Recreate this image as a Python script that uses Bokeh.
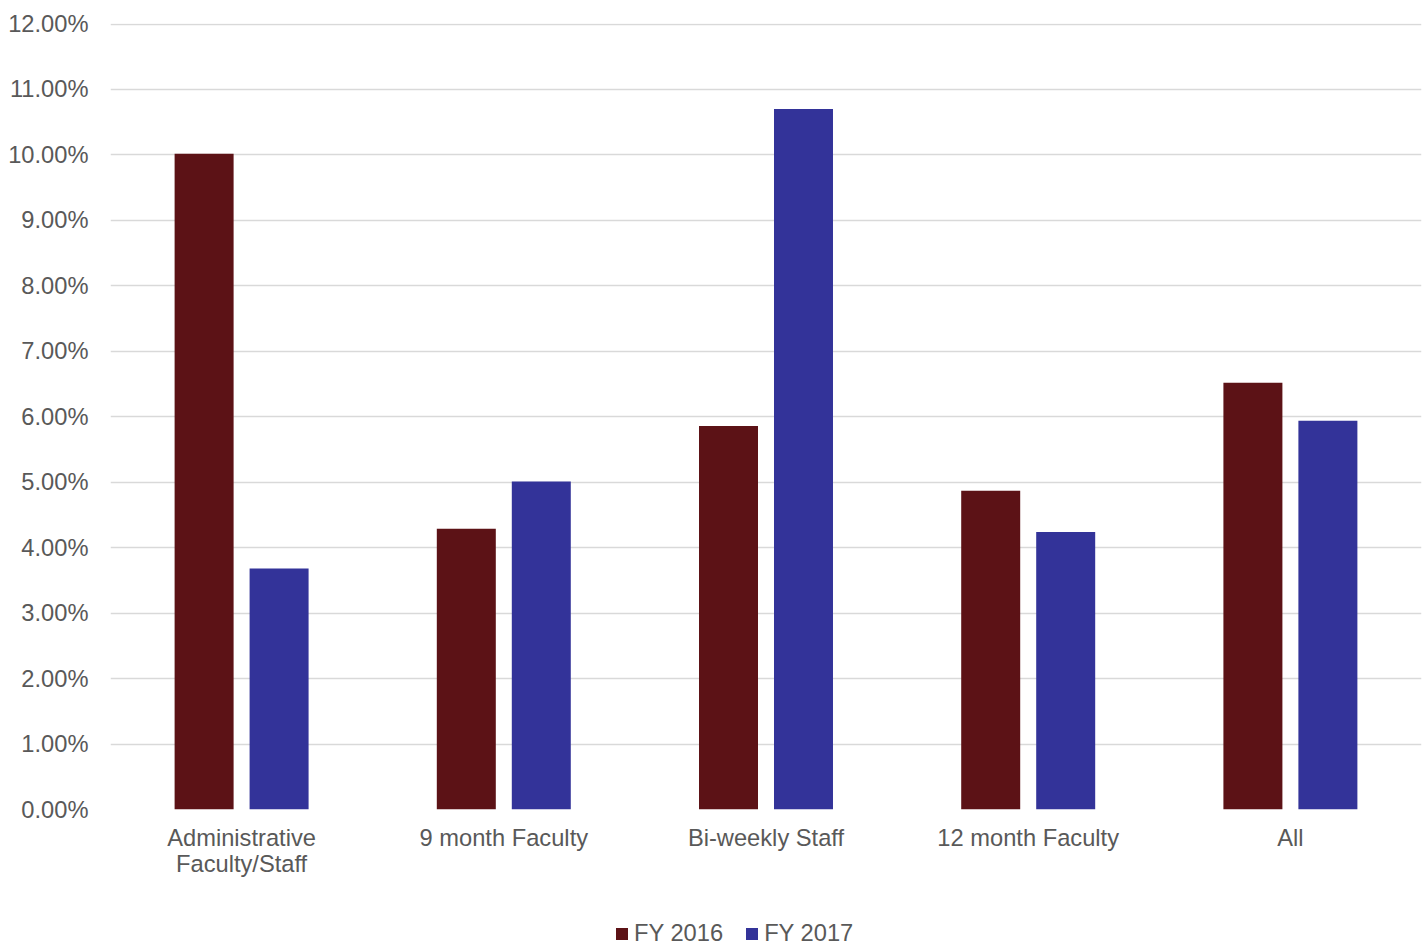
from bokeh.plotting import figure
from bokeh.layouts import column
from bokeh.models import (ColumnDataSource, FactorRange, Range1d, NumeralTickFormatter,
                          Legend, LegendItem, SingleIntervalTicker)
from bokeh.transform import dodge
from bokeh.embed import file_html
from bokeh.resources import INLINE

# Turnover rate by employee group, two fiscal years
groups = ["Administrative\nFaculty/Staff", "9 month Faculty", "Bi-weekly Staff",
          "12 month Faculty", "All"]
fy2016 = [0.1002, 0.0429, 0.0586, 0.0487, 0.0652]
fy2017 = [0.0368, 0.0501, 0.1070, 0.0424, 0.0594]
series_names = ["FY 2016", "FY 2017"]
series_colors = ["#5C1216", "#333399"]

FONT = "Liberation Sans"
TEXT_COLOR = "#595959"
FONT_SIZE = "23.7px"

src = ColumnDataSource(dict(group=groups, fy2016=fy2016, fy2017=fy2017))

p = figure(width=1423, height=900, output_backend="svg", toolbar_location=None,
           x_range=FactorRange(factors=groups, range_padding=0),
           y_range=Range1d(0, 0.12008),
           min_border_left=110, min_border_right=2, min_border_top=23,
           min_border_bottom=91)

p.vbar(x=dodge("group", -0.143, range=p.x_range), top="fy2016", width=0.225,
       source=src, color=series_colors[0], line_color=None)
p.vbar(x=dodge("group", 0.143, range=p.x_range), top="fy2017", width=0.225,
       source=src, color=series_colors[1], line_color=None)

p.outline_line_color = None
p.xgrid.grid_line_color = None
p.ygrid.grid_line_color = "#D9D9D9"
p.ygrid.grid_line_width = 1.3

p.yaxis.ticker = SingleIntervalTicker(interval=0.01)
p.yaxis.formatter = NumeralTickFormatter(format="0.00%")
for ax in (p.xaxis, p.yaxis):
    ax.axis_line_color = None
    ax.major_tick_line_color = None
    ax.minor_tick_line_color = None
    ax.major_tick_out = 0
    ax.major_tick_in = 0
    ax.minor_tick_out = 0
    ax.major_label_text_font = FONT
    ax.major_label_text_font_size = FONT_SIZE
    ax.major_label_text_color = TEXT_COLOR
p.yaxis.major_label_standoff = 22
p.xaxis.major_label_standoff = 15
p.xaxis.major_label_text_line_height = 1.0

# Legend strip under the chart; swatch renderers sit below the visible range
leg_fig = figure(width=1423, height=52, output_backend="svg", toolbar_location=None,
                 x_range=Range1d(0, 1), y_range=Range1d(0, 1),
                 min_border=0, outline_line_color=None)
leg_fig.axis.visible = False
leg_fig.grid.visible = False
swatches = [leg_fig.vbar(x=[0.5], bottom=[-3], top=[-2], width=0.1, color=c, line_color=None)
            for c in series_colors]

legend = Legend(items=[LegendItem(label=n, renderers=[r]) for n, r in zip(series_names, swatches)],
                orientation="horizontal", location=(504, 5),
                label_text_font=FONT, label_text_font_size=FONT_SIZE,
                label_text_color=TEXT_COLOR, glyph_width=15, glyph_height=15,
                label_standoff=5, spacing=21, padding=0, margin=0,
                border_line_color=None, background_fill_alpha=0)
leg_fig.add_layout(legend, "center")

layout = column(p, leg_fig, spacing=0)
open("out.html", "w").write(file_html(layout, INLINE))
